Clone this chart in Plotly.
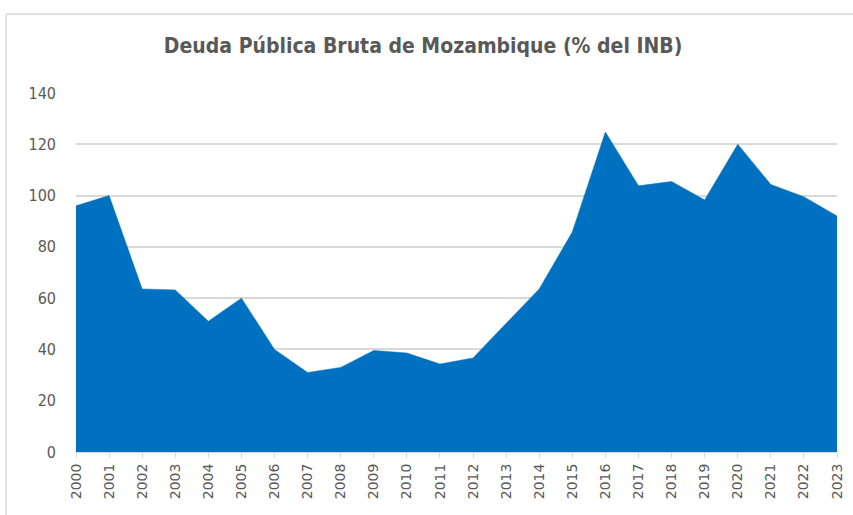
import plotly.graph_objects as go

years = list(range(2000, 2024))
deuda = [96, 100, 63.6, 63.2, 51, 60, 40, 31, 33, 39.6, 38.6, 34.3, 36.7, 50, 63.6, 85.8,
         124.8, 103.8, 105.5, 98.3, 120, 104.3, 99.5, 92]
year_labels = [str(y) for y in years]
y_ticks = [0, 20, 40, 60, 80, 100, 120, 140]

fig = go.Figure()
fig.add_trace(go.Scatter(
    x=years, y=deuda, mode="lines", fill="tozeroy",
    line=dict(color="#0070C0", width=0.5), fillcolor="#0070C0",
    hoverinfo="x+y", showlegend=False))

font_fam = "DejaVu Sans Condensed, Liberation Sans, Arial, sans-serif"
fig.update_layout(
    width=853, height=515,
    margin=dict(l=76, r=8, t=93, b=63),
    paper_bgcolor="white", plot_bgcolor="white",
    title=dict(text="<b>Deuda Pública Bruta de Mozambique (% del INB)</b>",
               x=0.496, xanchor="center", y=0.912, yanchor="middle",
               font=dict(family=font_fam, size=21, color="#595959")),
    font=dict(family=font_fam, color="#595959"),
    xaxis=dict(range=[2000, 2023], tickmode="array", tickvals=years, ticktext=year_labels,
               tickangle=-90, tickfont=dict(family="DejaVu Sans, sans-serif", size=14, color="#595959"),
               showgrid=False, showline=True, linecolor="#D9D9D9", linewidth=1,
               ticks="outside", ticklen=5, tickcolor="#D9D9D9", zeroline=False),
    yaxis=dict(range=[0, 140], tickmode="array", tickvals=y_ticks,
               tickfont=dict(size=16, color="#595959"),
               showgrid=True, gridcolor="#D9D9D9", gridwidth=1.5, zeroline=False,
               ticks="", ticklabelstandoff=19),
    shapes=[
        dict(type="line", xref="paper", yref="paper", x0=-0.092, x1=-0.092, y0=1.22, y1=-0.2,
             line=dict(color="#D9D9D9", width=1.5)),
        dict(type="line", xref="paper", yref="paper", x0=-0.092, x1=1.03, y0=1.22, y1=1.22,
             line=dict(color="#D9D9D9", width=1.5)),
    ],
)
fig.write_html("out.html", config={"displayModeBar": False},
               post_script="document.body.style.margin='0px';")
